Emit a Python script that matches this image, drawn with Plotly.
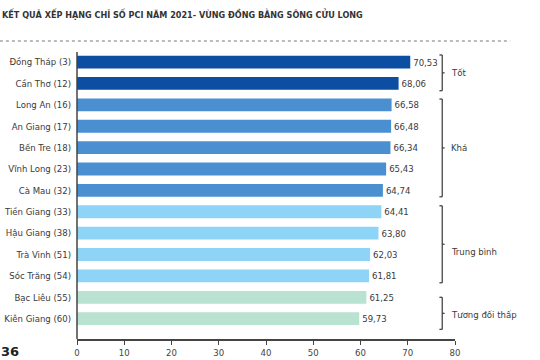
import plotly.graph_objects as go

title = "KẾT QUẢ XẾP HẠNG CHỈ SỐ PCI NĂM 2021- VÙNG ĐỒNG BẰNG SÔNG CỬU LONG"
provinces = ["Đồng Tháp (3)", "Cần Thơ (12)", "Long An (16)", "An Giang (17)", "Bến Tre (18)",
             "Vĩnh Long (23)", "Cà Mau (32)", "Tiền Giang (33)", "Hậu Giang (38)", "Trà Vinh (51)",
             "Sóc Trăng (54)", "Bạc Liêu (55)", "Kiên Giang (60)"]
scores = [70.53, 68.06, 66.58, 66.48, 66.34, 65.43, 64.74, 64.41, 63.80, 62.03, 61.81, 61.25, 59.73]
groups = ["Tốt", "Tốt", "Khá", "Khá", "Khá", "Khá", "Khá", "Trung bình", "Trung bình",
          "Trung bình", "Trung bình", "Tương đối thấp", "Tương đối thấp"]
group_names = ["Tốt", "Khá", "Trung bình", "Tương đối thấp"]
group_colors = {"Tốt": "#0b4ea2", "Khá": "#4a90d0", "Trung bình": "#8dd4f6", "Tương đối thấp": "#b9e2d2"}
x_ticks = [0, 10, 20, 30, 40, 50, 60, 70, 80]

FONT = "Liberation Sans Narrow, DejaVu Sans Condensed, Arial Narrow, sans-serif"
idx = list(range(len(provinces)))

T, B = 52, 21
PH = 360 - T - B

fig = go.Figure()
fig.add_trace(go.Bar(
    x=scores, y=idx, orientation="h",
    marker=dict(color=[group_colors[g] for g in groups], line=dict(width=0)),
    width=0.6,
    text=[f"{v:.2f}".replace(".", ",") for v in scores],
    textposition="outside", cliponaxis=False,
    textfont=dict(family=FONT, size=9.5, color="#3a3a3a"),
    hoverinfo="skip",
))

shapes = []
# dotted separator under title
shapes.append(dict(type="line", xref="paper", yref="paper", x0=-0.204, x1=1.146,
                   y0=1 + 11 / PH, y1=1 + 11 / PH,
                   line=dict(color="#777", width=1, dash="dot")))
# y axis vertical line
shapes.append(dict(type="line", xref="paper", yref="paper", x0=0, x1=0, y0=0, y1=1,
                   line=dict(color="#444", width=1.5)))

# brackets per group
bx = 77.3
spans = {"Tốt": (-0.33, 1.34), "Khá": (1.73, 6.3), "Trung bình": (6.72, 10.32), "Tương đối thấp": (11.0, 12.5)}
label_y = {"Tốt": 0.5, "Khá": 4.0, "Trung bình": 8.85, "Tương đối thấp": 11.8}
annotations = []
for g in group_names:
    y0, y1 = spans[g]
    shapes.append(dict(type="line", x0=bx, x1=bx, y0=y0, y1=y1, line=dict(color="#444", width=1.3)))
    shapes.append(dict(type="line", x0=bx - 0.6, x1=bx, y0=y0, y1=y0, line=dict(color="#444", width=1.3)))
    shapes.append(dict(type="line", x0=bx - 0.6, x1=bx, y0=y1, y1=y1, line=dict(color="#444", width=1.3)))
    ym = (y0 + y1) / 2
    shapes.append(dict(type="line", x0=bx, x1=bx + 0.5, y0=ym, y1=ym, line=dict(color="#444", width=1.3)))
    annotations.append(dict(x=bx + 1.4, y=label_y[g], text=g, showarrow=False, xanchor="left",
                            yanchor="middle", font=dict(family=FONT, size=9.5, color="#3a3a3a")))

annotations.append(dict(xref="paper", yref="paper", x=-0.2037, y=1 + 38 / PH, xanchor="left", yanchor="middle",
                        text="<b>" + title + "</b>", showarrow=False,
                        font=dict(family=FONT, size=9, color="#333")))
annotations.append(dict(xref="paper", yref="paper", x=-0.2037, y=-B / PH, xanchor="left", yanchor="bottom",
                        text="<b>36</b>", showarrow=False, borderpad=0,
                        font=dict(family="DejaVu Sans", size=13, color="#222")))

fig.update_layout(
    width=540, height=360,
    margin=dict(l=77, r=85, t=T, b=B, autoexpand=False),
    paper_bgcolor="white", plot_bgcolor="white",
    showlegend=False, separators=",.",
    shapes=shapes, annotations=annotations,
    xaxis=dict(range=[0, 80], tickvals=x_ticks, showgrid=False, zeroline=False,
               showline=True, linecolor="#444", linewidth=1.5, automargin=False,
               ticks="outside", ticklen=4, tickcolor="#444",
               tickfont=dict(family=FONT, size=9.5, color="#444")),
    yaxis=dict(range=[12.95, -0.47], tickvals=idx, ticktext=provinces, showgrid=False,
               zeroline=False, showline=False, ticks="", ticklabelstandoff=5, automargin=False,
               tickfont=dict(family=FONT, size=9.5, color="#3a3a3a")),
)

fig.write_html("out.html", config={"displayModeBar": False},
               post_script="document.body.style.margin='0';document.body.style.overflow='hidden';")
